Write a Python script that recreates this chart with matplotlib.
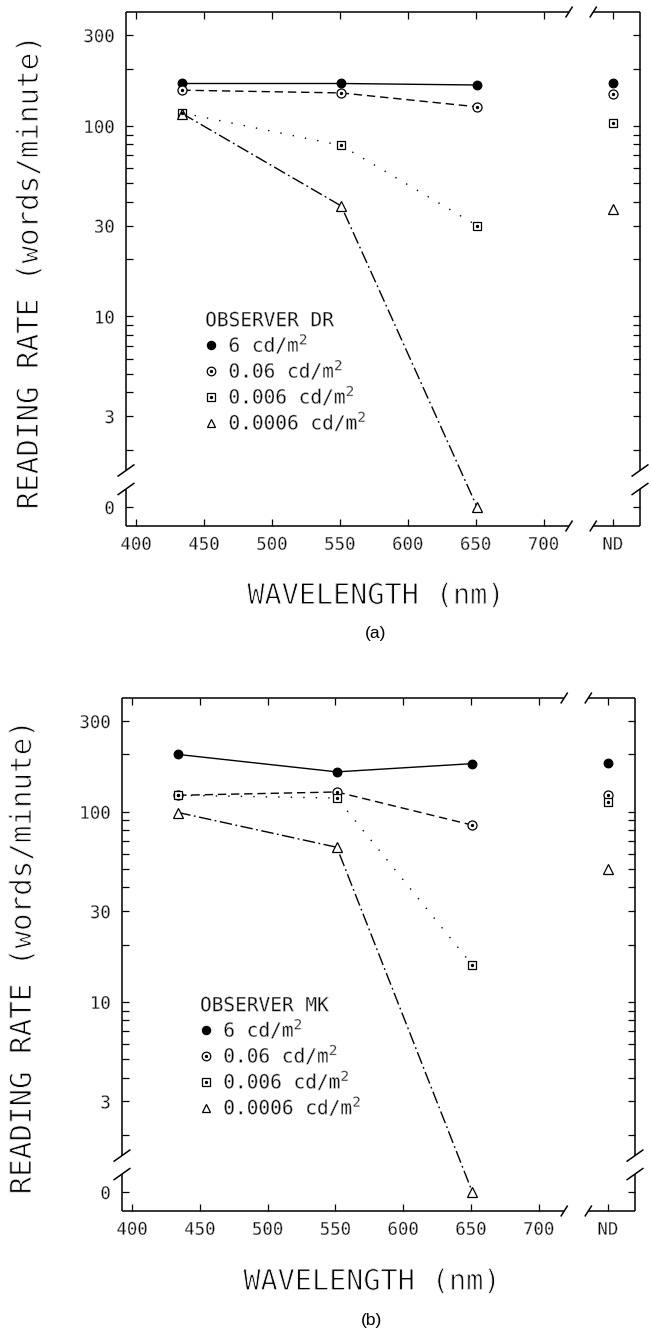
import numpy as np
import matplotlib
matplotlib.use("Agg")
import matplotlib.pyplot as plt
import matplotlib.patheffects as pe
from matplotlib.lines import Line2D
from matplotlib.ticker import FixedLocator, FixedFormatter, NullFormatter

# ---------------- data ----------------
wavelengths = [434, 551, 651]
lum_labels = ["6 cd/m$^2$", "0.06 cd/m$^2$", "0.006 cd/m$^2$", "0.0006 cd/m$^2$"]

# Observer DR (panel a): reading rate (words/minute) at each wavelength, and ND value
dr_6 = [167, 167, 164]
dr_p06 = [154, 149, 126]
dr_p006 = [117, 79, 30]
dr_p0006 = [116, 38, 0]
dr_nd = [167, 147, 103, 36.5]

# Observer MK (panel b)
mk_6 = [200, 162, 179]
mk_p06 = [122, 127, 85]
mk_p006 = [122, 118, 15.6]
mk_p0006 = [99, 65, 0]
mk_nd = [181, 122, 112, 50]

x_ticks = [400, 450, 500, 550, 600, 650, 700]
x_tick_labels = ["400", "450", "500", "550", "600", "650", "700", "ND"]
y_major = [0, 3, 10, 30, 100, 300]
y_major_labels = ["0", "3", "10", "30", "100", "300"]
y_minor = [2, 4, 5, 6, 7, 8, 9, 20, 40, 50, 60, 70, 80, 90, 200]

# ---------------- layout constants ----------------
ND_X = 751          # position of the "ND" column on the wavelength axis
XLIM = (392.5, 771)
BREAK = 1.5
LOGB = np.log10(BREAK)


def fwd(y):
    y = np.asarray(y, dtype=float)
    return np.where(y >= BREAK, np.log10(np.maximum(y, BREAK)), y * LOGB / BREAK)


def inv(f):
    f = np.asarray(f, dtype=float)
    return np.where(f >= LOGB, 10 ** np.clip(f, -10, 10), f * BREAK / LOGB)


YLIM = (float(inv(-0.1)), float(inv(2.598)))

plt.rcParams["font.family"] = ["DejaVu Sans Mono", "DejaVu Sans"]

fig = plt.figure(figsize=(6.51, 13.31), dpi=100)
W, H = 651.0, 1331.0

thin_big = [pe.Normal(), pe.Stroke(linewidth=0.7, foreground="white")]
thin_small = [pe.Normal(), pe.Stroke(linewidth=0.35, foreground="white")]


def make_axes(left, top, right, bottom):
    return fig.add_axes([left / W, 1 - bottom / H, (right - left) / W, (bottom - top) / H])


styles = [
    dict(marker="o", mfc="k", ls="-", dashes=None, dot=False),
    dict(marker="o", mfc="white", ls="--", dashes=(6, 3.5), dot=True),
    dict(marker="s", mfc="white", ls=":", dashes=(1, 8), dot=True),
    dict(marker="^", mfc="white", ls="-.", dashes=(9, 2.5, 1.3, 2.5), dot=False),
]
msizes = [6.2, 6.5, 6.0, 6.5]


def draw_frame(ax, yb=(0.072, 0.108), xb=(0.862, 0.909)):
    kw = dict(transform=ax.transAxes, color="k", lw=1.1, clip_on=False,
              solid_capstyle="butt")
    segs = [
        ([0, 0], [yb[1], 1]), ([0, 0], [0, yb[0]]),
        ([1, 1], [yb[1], 1]), ([1, 1], [0, yb[0]]),
        ([0, xb[0]], [0, 0]), ([xb[1], 1], [0, 0]),
        ([0, xb[0]], [1, 1]), ([xb[1], 1], [1, 1]),
    ]
    for xs, ys in segs:
        ax.add_line(Line2D(xs, ys, **kw))
    for yy in yb:
        for xx in (0, 1):
            ax.add_line(Line2D([xx - 0.0165, xx + 0.0165], [yy - 0.0117, yy + 0.0117], **kw))
    for xx in xb:
        for yy in (0, 1):
            ax.add_line(Line2D([xx - 0.0068, xx + 0.0068], [yy - 0.0107, yy + 0.0107], **kw))


def panel(ax, series, nd_vals, observer, ylab_pos, xlab_pos, title_pos, leg_anchor):
    ax.set_yscale("function", functions=(fwd, inv))
    for vals, nd, st, ms in zip(series, nd_vals, styles, msizes):
        line, = ax.plot(wavelengths, vals, color="k", lw=1.0, ls=st["ls"],
                        marker=st["marker"], ms=ms, mfc=st["mfc"], mec="k",
                        mew=0.9, zorder=3, clip_on=False)
        if st["dashes"] is not None:
            line.set_dashes(st["dashes"])
        ax.plot([ND_X], [nd], ls="none", marker=st["marker"], ms=ms,
                mfc=st["mfc"], mec="k", mew=0.9, zorder=3, clip_on=False)
        if st["dot"]:
            ax.plot(wavelengths, vals, ls="none", marker="o", ms=1.4, color="k",
                    zorder=4, clip_on=False)
            ax.plot([ND_X], [nd], ls="none", marker="o", ms=1.4, color="k",
                    zorder=4, clip_on=False)

    ax.set_xlim(*XLIM)
    ax.set_ylim(*YLIM)
    ax.xaxis.set_major_locator(FixedLocator(x_ticks + [ND_X]))
    ax.xaxis.set_major_formatter(FixedFormatter(x_tick_labels))
    ax.yaxis.set_major_locator(FixedLocator(y_major))
    ax.yaxis.set_major_formatter(FixedFormatter(y_major_labels))
    ax.yaxis.set_minor_locator(FixedLocator(y_minor))
    ax.yaxis.set_minor_formatter(NullFormatter())
    ax.tick_params(which="both", direction="in", length=5, width=0.9,
                   top=True, right=True, labelsize=12.5, color="k")
    ax.tick_params(axis="y", pad=8)
    ax.tick_params(axis="x", pad=7)
    for lab in ax.get_xticklabels() + ax.get_yticklabels():
        lab.set_path_effects(thin_small)
    for s in ax.spines.values():
        s.set_visible(False)
    draw_frame(ax)

    ax.text(ylab_pos[0], ylab_pos[1], "READING RATE (words/minute)", rotation=90,
            ha="center", va="center", transform=ax.transAxes, fontsize=21,
            path_effects=thin_big)
    ax.text(xlab_pos[0], xlab_pos[1], "WAVELENGTH (nm)", ha="center", va="center",
            transform=ax.transAxes, fontsize=20.5, path_effects=thin_big)

    ax.text(title_pos[0], title_pos[1], observer, ha="left", va="center",
            transform=ax.transAxes, fontsize=14, path_effects=thin_small)

    handles = []
    for st, ms in zip(styles, msizes):
        h = Line2D([], [], ls="none", marker=st["marker"], ms=ms * 0.95,
                   mfc=st["mfc"], mec="k", mew=0.9)
        if st["dot"]:
            d = Line2D([], [], ls="none", marker="o", ms=1.4, color="k")
            handles.append((h, d))
        else:
            handles.append(h)
    leg = ax.legend(handles, lum_labels, loc="upper left",
                    bbox_to_anchor=leg_anchor, frameon=False, fontsize=14,
                    borderpad=0, borderaxespad=0,
                    handlelength=0.6, handletextpad=0.6, labelspacing=0.1,
                    alignment="left")
    for t in leg.get_texts():
        t.set_path_effects(thin_small)


ax_a = make_axes(126, 12, 640, 526)
panel(ax_a, [dr_6, dr_p06, dr_p006, dr_p0006], dr_nd, "OBSERVER DR",
      ylab_pos=(-0.187, 0.492), xlab_pos=(0.486, -0.136),
      title_pos=(0.154, 0.3994), leg_anchor=(0.154, 0.377))

ax_b = make_axes(122, 698, 635, 1211)
panel(ax_b, [mk_6, mk_p06, mk_p006, mk_p0006], mk_nd, "OBSERVER MK",
      ylab_pos=(-0.193, 0.493), xlab_pos=(0.487, -0.138),
      title_pos=(0.152, 0.4002), leg_anchor=(0.152, 0.378))

fig.text(376 / W, 1 - 633 / H, "(a)", ha="center", va="center",
         family="Liberation Sans", fontsize=12.5)
fig.text(372 / W, 1 - 1320 / H, "(b)", ha="center", va="center",
         family="Liberation Sans", fontsize=12.5)

fig.savefig("out.png", dpi=100)
